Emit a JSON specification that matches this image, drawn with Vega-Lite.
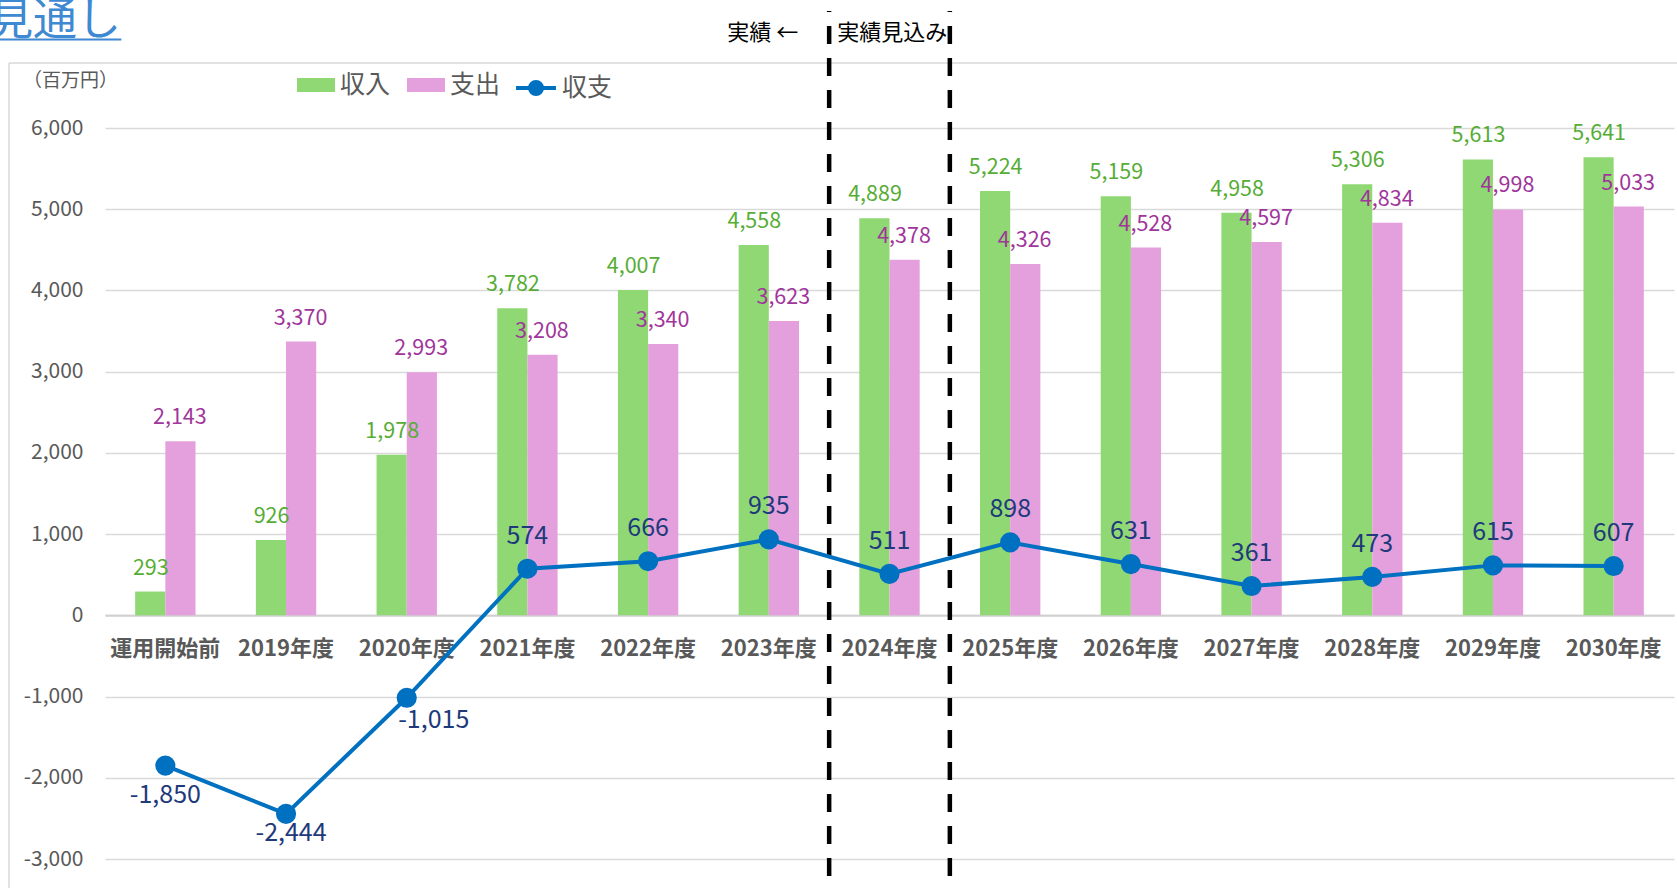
{
  "$schema": "https://vega.github.io/schema/vega-lite/v6.json",
  "width": 1569,
  "height": 731,
  "autosize": {"type": "none"},
  "padding": {"left": 105, "top": 128, "right": 3, "bottom": 29},
  "background": "white",
  "config": {
    "view": {"stroke": null},
    "font": "Noto Sans CJK JP",
    "locale": {"number": {"decimal": ".", "thousands": ",", "grouping": [3], "currency": ["$", ""], "minus": "-"}}
  },
  "datasets": {
    "main": [
      {"cat": "運用開始前", "収入": 293, "支出": 2143, "収支": -1850},
      {"cat": "2019年度", "収入": 926, "支出": 3370, "収支": -2444},
      {"cat": "2020年度", "収入": 1978, "支出": 2993, "収支": -1015},
      {"cat": "2021年度", "収入": 3782, "支出": 3208, "収支": 574},
      {"cat": "2022年度", "収入": 4007, "支出": 3340, "収支": 666},
      {"cat": "2023年度", "収入": 4558, "支出": 3623, "収支": 935},
      {"cat": "2024年度", "収入": 4889, "支出": 4378, "収支": 511},
      {"cat": "2025年度", "収入": 5224, "支出": 4326, "収支": 898},
      {"cat": "2026年度", "収入": 5159, "支出": 4528, "収支": 631},
      {"cat": "2027年度", "収入": 4958, "支出": 4597, "収支": 361},
      {"cat": "2028年度", "収入": 5306, "支出": 4834, "収支": 473},
      {"cat": "2029年度", "収入": 5613, "支出": 4998, "収支": 615},
      {"cat": "2030年度", "収入": 5641, "支出": 5033, "収支": 607}
    ],
    "dividers": [
      {"cat": "2024年度"},
      {"cat": "2025年度"}
    ],
    "notes": [
      {"cat": "2024年度", "left": "実績 ←", "right": "実績見込み"}
    ],
    "heading": [
      {"cat": "運用開始前", "label": "見通し", "unit": "（百万円）"}
    ]
  },
  "layer": [
    {
      "data": {"name": "main"},
      "transform": [{"fold": ["収入", "支出"], "as": ["series", "value"]}],
      "mark": {"type": "bar"},
      "encoding": {
        "x": {
          "field": "cat", "type": "nominal", "sort": null,
          "scale": {"paddingInner": 0, "paddingOuter": 0},
          "axis": {
            "title": null, "orient": "bottom", "offset": -243.67,
            "domain": true, "domainColor": "#D0D0D0", "domainWidth": 2,
            "ticks": false, "grid": false, "labelAngle": 0,
            "labelFont": "Noto Sans CJK JP", "labelFontSize": 22, "labelFontWeight": "bold",
            "labelColor": "#595959", "labelPadding": 23
          }
        },
        "xOffset": {"field": "series", "type": "nominal", "sort": ["収入", "支出"], "scale": {"paddingInner": 0, "paddingOuter": 1.08}},
        "y": {
          "field": "value", "type": "quantitative",
          "scale": {"domain": [-3000, 6000], "nice": false, "zero": false},
          "axis": {
            "title": null,
            "values": [-3000, -2000, -1000, 0, 1000, 2000, 3000, 4000, 5000, 6000],
            "format": ",d", "domain": false, "ticks": false,
            "grid": true, "gridColor": "#D9D9D9", "gridWidth": 1.4,
            "labelFont": "Noto Sans CJK JP", "labelFontSize": 21, "labelColor": "#595959", "labelPadding": 22
          }
        },
        "color": {
          "field": "series", "type": "nominal",
          "scale": {"domain": ["収入", "支出"], "range": ["#8FD873", "#E3A0DC"]},
          "legend": {
            "orient": "none", "legendX": 192, "legendY": -62, "direction": "horizontal", "title": null,
            "labelFont": "Noto Sans CJK JP", "labelFontSize": 25, "labelColor": "#595959",
            "symbolSize": 1444, "labelOffset": 5, "columnPadding": 16, "padding": 0,
            "symbolType": "M-1,-0.37H1V0.37H-1Z", "symbolStrokeWidth": 0
          }
        }
      }
    },
    {
      "data": {"name": "heading"},
      "mark": {"type": "rule", "color": "#D9D9D9", "strokeWidth": 1.5, "xOffset": -96},
      "encoding": {
        "x": {"field": "cat", "type": "nominal", "sort": null, "bandPosition": 0, "title": null},
        "y": {"datum": 6800, "type": "quantitative", "title": null},
        "y2": {"datum": -4500}
      }
    },
    {
      "data": {"name": "heading"},
      "mark": {"type": "rule", "color": "#D9D9D9", "strokeWidth": 1.5, "xOffset": -96, "x2Offset": 1525},
      "encoding": {
        "x": {"field": "cat", "type": "nominal", "sort": null, "bandPosition": 0, "title": null},
        "x2": {"field": "cat"},
        "y": {"datum": 6800, "type": "quantitative", "title": null}
      }
    },
    {
      "data": {"name": "main"},
      "mark": {"type": "text", "fontSize": 21.5, "baseline": "middle", "dy": -23, "dx": -14.5, "color": "#56AD35", "font": "Noto Sans CJK JP"},
      "encoding": {
        "x": {"field": "cat", "type": "nominal", "sort": null, "title": null},
        "y": {"field": "収入", "type": "quantitative", "title": null},
        "text": {"field": "収入", "type": "quantitative", "format": ",d"}
      }
    },
    {
      "data": {"name": "main"},
      "mark": {"type": "text", "fontSize": 21.5, "baseline": "middle", "dy": -23, "dx": 14.5, "color": "#A0359B", "font": "Noto Sans CJK JP"},
      "encoding": {
        "x": {"field": "cat", "type": "nominal", "sort": null, "title": null},
        "y": {"field": "支出", "type": "quantitative", "title": null},
        "text": {"field": "支出", "type": "quantitative", "format": ",d"}
      }
    },
    {
      "data": {"name": "dividers"},
      "mark": {"type": "rule", "color": "#000000", "strokeWidth": 4.5, "strokeDash": [18, 14]},
      "encoding": {
        "x": {"field": "cat", "type": "nominal", "sort": null, "bandPosition": 0, "title": null},
        "y": {"datum": -3210, "type": "quantitative", "title": null},
        "y2": {"datum": 7440}
      }
    },
    {
      "data": {"name": "main"},
      "transform": [{"fold": ["収支"], "as": ["series", "value"]}],
      "mark": {"type": "line", "strokeWidth": 4, "point": {"filled": true, "size": 330, "opacity": 1, "color": "#0070C0"}},
      "encoding": {
        "x": {"field": "cat", "type": "nominal", "sort": null, "title": null},
        "y": {"field": "value", "type": "quantitative", "title": null},
        "stroke": {
          "field": "series", "type": "nominal",
          "scale": {"domain": ["収支"], "range": ["#0070C0"]},
          "legend": {
            "orient": "none", "legendX": 409, "legendY": -62, "direction": "horizontal", "title": null,
            "labelFont": "Noto Sans CJK JP", "labelFontSize": 25, "labelColor": "#595959",
            "symbolSize": 1600, "labelOffset": 4, "padding": 0,
            "symbolType": "M-1,0H1M0.3,0A0.3,0.3,0,1,1,-0.3,0A0.3,0.3,0,1,1,0.3,0M0.12,0A0.12,0.12,0,1,1,-0.12,0A0.12,0.12,0,1,1,0.12,0",
            "symbolStrokeWidth": 4, "symbolStrokeColor": "#0070C0", "symbolFillColor": "#0070C0"
          }
        }
      }
    },
    {
      "data": {"name": "main"},
      "transform": [{"filter": "datum['収支'] > 0"}],
      "mark": {"type": "text", "fontSize": 25, "baseline": "middle", "dy": -33, "color": "#1E3A7B", "font": "Noto Sans CJK JP"},
      "encoding": {
        "x": {"field": "cat", "type": "nominal", "sort": null, "title": null},
        "y": {"field": "収支", "type": "quantitative", "title": null},
        "text": {"field": "収支", "type": "quantitative", "format": ",d"}
      }
    },
    {
      "data": {"name": "main"},
      "transform": [{"filter": "datum.cat === '運用開始前'"}],
      "mark": {"type": "text", "fontSize": 25, "baseline": "middle", "dy": 29, "color": "#1E3A7B", "font": "Noto Sans CJK JP"},
      "encoding": {
        "x": {"field": "cat", "type": "nominal", "sort": null, "title": null},
        "y": {"field": "収支", "type": "quantitative", "title": null},
        "text": {"field": "収支", "type": "quantitative", "format": ",d"}
      }
    },
    {
      "data": {"name": "main"},
      "transform": [{"filter": "datum.cat === '2019年度'"}],
      "mark": {"type": "text", "fontSize": 25, "baseline": "middle", "dy": 19, "dx": 5, "color": "#1E3A7B", "font": "Noto Sans CJK JP"},
      "encoding": {
        "x": {"field": "cat", "type": "nominal", "sort": null, "title": null},
        "y": {"field": "収支", "type": "quantitative", "title": null},
        "text": {"field": "収支", "type": "quantitative", "format": ",d"}
      }
    },
    {
      "data": {"name": "main"},
      "transform": [{"filter": "datum.cat === '2020年度'"}],
      "mark": {"type": "text", "fontSize": 25, "baseline": "middle", "dy": 22, "dx": 27, "color": "#1E3A7B", "font": "Noto Sans CJK JP"},
      "encoding": {
        "x": {"field": "cat", "type": "nominal", "sort": null, "title": null},
        "y": {"field": "収支", "type": "quantitative", "title": null},
        "text": {"field": "収支", "type": "quantitative", "format": ",d"}
      }
    },
    {
      "data": {"name": "notes"},
      "mark": {"type": "text", "fontSize": 22, "baseline": "middle", "align": "right", "dx": -31, "color": "#000000", "font": "Noto Sans CJK JP"},
      "encoding": {
        "x": {"field": "cat", "type": "nominal", "sort": null, "bandPosition": 0, "title": null},
        "y": {"datum": 7170, "type": "quantitative", "title": null},
        "text": {"field": "left"}
      }
    },
    {
      "data": {"name": "notes"},
      "mark": {"type": "text", "fontSize": 22, "baseline": "middle", "align": "left", "dx": 8, "color": "#000000", "font": "Noto Sans CJK JP"},
      "encoding": {
        "x": {"field": "cat", "type": "nominal", "sort": null, "bandPosition": 0, "title": null},
        "y": {"datum": 7170, "type": "quantitative", "title": null},
        "text": {"field": "right"}
      }
    },
    {
      "data": {"name": "heading"},
      "mark": {"type": "text", "fontSize": 44, "baseline": "alphabetic", "align": "left", "dx": -116, "color": "#3F88D2", "font": "Noto Sans CJK JP"},
      "encoding": {
        "x": {"field": "cat", "type": "nominal", "sort": null, "bandPosition": 0, "title": null},
        "y": {"datum": 7150, "type": "quantitative", "title": null},
        "text": {"field": "label"}
      }
    },
    {
      "data": {"name": "heading"},
      "mark": {"type": "rule", "color": "#3F88D2", "strokeWidth": 2, "xOffset": -121, "x2Offset": -44},
      "encoding": {
        "x": {"field": "cat", "type": "nominal", "sort": null, "bandPosition": 0, "title": null},
        "x2": {"field": "cat"},
        "y": {"datum": 7090, "type": "quantitative", "title": null}
      }
    },
    {
      "data": {"name": "heading"},
      "mark": {"type": "text", "fontSize": 19, "baseline": "middle", "align": "left", "dx": -82, "color": "#595959", "font": "Noto Sans CJK JP"},
      "encoding": {
        "x": {"field": "cat", "type": "nominal", "sort": null, "bandPosition": 0, "title": null},
        "y": {"datum": 6579, "type": "quantitative", "title": null},
        "text": {"field": "unit"}
      }
    }
  ]
}
